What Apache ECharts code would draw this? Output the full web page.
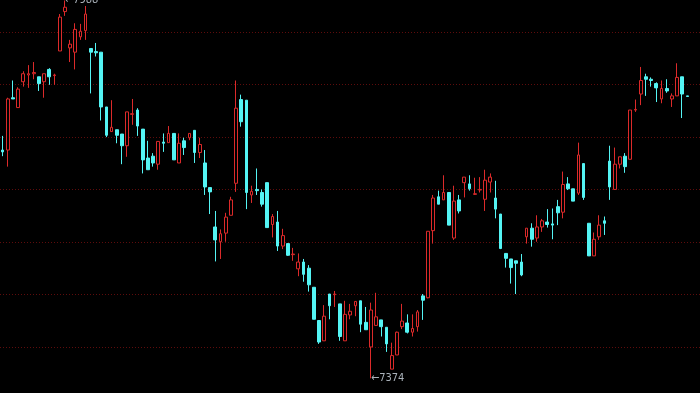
<!DOCTYPE html>
<html>
<head>
<meta charset="utf-8">
<script src="https://cdn.jsdelivr.net/npm/echarts@6/dist/echarts.min.js"></script>
<style>
html,body{margin:0;padding:0;background:#000;}
#chart{width:700px;height:393px;}
</style>
</head>
<body>
<div id="chart"></div>
<script>
const opens  = [7745,7745,7830,7814,7856,7867,7869,7864,7856,7876,7866,7906,7970,7911,7904,7929,7939,7910,7905,7904,7815,7775,7778,7771,7752,7803,7810,7779,7732,7735,7722,7758,7757,7772,7724,7760,7765,7777,7741,7724,7684,7620,7596,7610,7639,7691,7827,7826,7672,7681,7676,7692,7624,7628,7589,7593,7575,7552,7563,7553,7522,7468,7435,7511,7510,7495,7435,7477,7492,7500,7465,7425,7460,7469,7457,7389,7412,7458,7464,7449,7458,7508,7505,7614,7669,7664,7676,7602,7664,7692,7690,7673,7680,7665,7693,7667,7641,7577,7568,7565,7563,7604,7618,7602,7620,7628,7625,7653,7644,7690,7682,7675,7723,7626,7573,7604,7630,7727,7681,7722,7735,7730,7810,7836,7864,7860,7853,7828,7845,7828,7833,7864,7833];
const closes = [7742,7828,7828,7844,7869,7869,7871,7853,7869,7864,7867,7961,7977,7917,7941,7938,7966,7904,7903,7815,7769,7782,7769,7752,7807,7804,7784,7729,7713,7724,7759,7756,7772,7729,7756,7749,7772,7741,7754,7685,7677,7599,7609,7636,7664,7813,7791,7676,7678,7679,7657,7619,7637,7589,7606,7574,7576,7563,7543,7526,7470,7433,7475,7492,7511,7442,7478,7483,7499,7462,7453,7485,7474,7458,7430,7411,7449,7467,7449,7455,7482,7501,7613,7667,7657,7676,7623,7662,7646,7701,7682,7674,7681,7696,7701,7649,7585,7569,7554,7561,7542,7618,7600,7620,7630,7624,7623,7643,7689,7682,7662,7737,7668,7573,7600,7623,7626,7685,7722,7734,7718,7810,7811,7858,7860,7858,7846,7845,7841,7833,7863,7836,7832];
const lows   = [7735,7718,7828,7814,7848,7846,7860,7841,7830,7851,7851,7906,7963,7888,7876,7924,7924,7837,7897,7793,7766,7775,7756,7722,7734,7786,7768,7707,7713,7718,7713,7742,7757,7729,7724,7737,7761,7724,7732,7672,7641,7564,7568,7596,7639,7677,7783,7649,7659,7672,7653,7619,7603,7581,7584,7573,7565,7540,7531,7515,7470,7430,7435,7470,7490,7435,7435,7470,7475,7449,7453,7374,7460,7442,7417,7389,7412,7454,7447,7442,7450,7469,7504,7593,7657,7664,7623,7599,7642,7668,7679,7672,7676,7646,7676,7634,7584,7554,7528,7511,7540,7593,7588,7596,7612,7619,7600,7623,7634,7680,7662,7672,7664,7573,7573,7599,7607,7664,7681,7715,7708,7730,7807,7818,7833,7848,7823,7821,7838,7815,7833,7797,7832];
const highs  = [7768,7830,7858,7847,7873,7883,7888,7864,7869,7878,7869,7966,7988,7924,7951,7950,7979,7910,7919,7904,7815,7826,7778,7771,7807,7828,7813,7779,7760,7740,7759,7772,7784,7772,7772,7765,7772,7777,7765,7745,7684,7646,7616,7643,7669,7858,7835,7826,7687,7715,7681,7692,7641,7646,7617,7593,7586,7577,7568,7558,7522,7468,7493,7511,7516,7495,7500,7495,7499,7500,7490,7497,7513,7469,7457,7432,7450,7495,7478,7478,7485,7511,7613,7672,7679,7704,7676,7687,7672,7701,7704,7700,7701,7713,7707,7695,7641,7577,7568,7565,7576,7618,7626,7639,7633,7649,7650,7664,7710,7701,7682,7757,7723,7626,7611,7639,7637,7752,7749,7734,7740,7810,7827,7880,7869,7863,7855,7858,7860,7837,7886,7864,7833];
const categories = opens.map((_, i) => 'K' + (i + 1));
const gridLineSteps = [0, 6]; // grid band index range shown as dotted lines

const UP = '#dc2a2a';
const DOWN = '#54f4f4';
const candles = opens.map((o, i) => [o, closes[i], lows[i], highs[i]]);

const chart = echarts.init(document.getElementById('chart'), null, {renderer: 'canvas'});
chart.setOption({
  backgroundColor: '#000000',
  animation: false,
  grid: [
    {left: 0, right: 10, top: 0, bottom: 0, containLabel: false},
    {left: 0, right: 0, top: 32.3, bottom: 46, containLabel: false}
  ],
  xAxis: [
    {
      type: 'category', data: categories, boundaryGap: true, gridIndex: 0,
      axisLine: {show: false}, axisTick: {show: false}, axisLabel: {show: false}, splitLine: {show: false}
    },
    {
      type: 'value', gridIndex: 1, min: 0, max: 1, show: false,
      splitLine: {show: false}
    }
  ],
  yAxis: [
    {
      type: 'value', gridIndex: 0, min: 7350.2, max: 7988.8,
      axisLine: {show: false}, axisTick: {show: false}, axisLabel: {show: false}, splitLine: {show: false}
    },
    {
      type: 'value', gridIndex: 1, min: gridLineSteps[0], max: gridLineSteps[1], interval: 1,
      axisLine: {show: false}, axisTick: {show: false}, axisLabel: {show: false},
      splitLine: {show: true, showMinLine: true, showMaxLine: true,
        lineStyle: {color: '#5e0c0c', width: 1, type: [1, 2]}}
    }
  ],
  series: [{
    type: 'candlestick',
    xAxisIndex: 0,
    yAxisIndex: 0,
    data: candles,
    barWidth: 3.2,
    z: 5,
    itemStyle: {
      color: '#000000', color0: DOWN,
      borderColor: UP, borderColor0: DOWN, borderWidth: 1
    },
    markPoint: {
      symbol: 'circle', symbolSize: 0,
      label: {
        show: true, position: 'right', distance: 0,
        color: '#aab2ba', fontSize: 11,
        fontFamily: "'Liberation Sans Narrow', 'DejaVu Sans Condensed', sans-serif",
        formatter: p => '\u2190' + Math.round(p.value)
      },
      data: [
        {type: 'max', valueDim: 'highest'},
        {type: 'min', valueDim: 'lowest'}
      ]
    }
  }]
});
</script>
</body>
</html>
